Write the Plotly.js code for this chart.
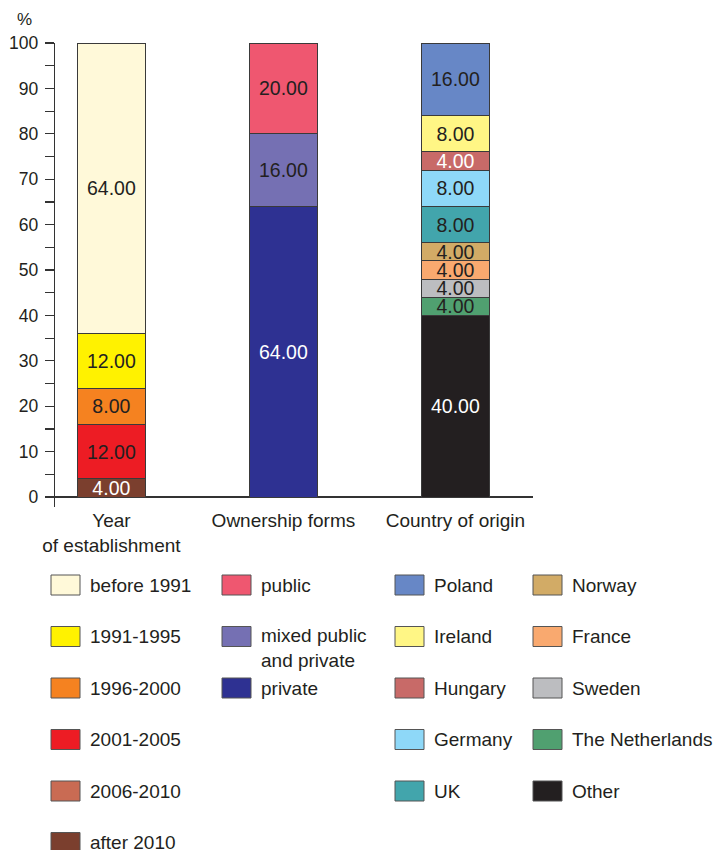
<!DOCTYPE html>
<html>
<head>
<meta charset="utf-8">
<script src="https://cdn.plot.ly/plotly-3.0.1.min.js"></script>
<style>html,body{margin:0;padding:0;background:#fff;}#chart{width:716px;height:850px;}</style>
</head>
<body>
<div id="chart"></div>
<script>
// ---- DATA (stack order bottom -> top) ----
const categories = ['Year<br>of establishment', 'Ownership forms', 'Country of origin'];

const yearNames  = ['after 2010', '2006-2010', '2001-2005', '1996-2000', '1991-1995', 'before 1991'];
const yearValues = [4, 0, 12, 8, 12, 64];

const ownNames  = ['private', 'mixed public<br>and private', 'public'];
const ownValues = [64, 16, 20];

const countryNames  = ['Other', 'The Netherlands', 'Sweden', 'France', 'Norway', 'UK', 'Germany', 'Hungary', 'Ireland', 'Poland'];
const countryValues = [40, 4, 4, 4, 4, 8, 8, 4, 8, 16];

const yTickVals = [0, 10, 20, 30, 40, 50, 60, 70, 80, 90, 100];

// ---- STYLE ----
const yearColors = ['#7b3f2e', '#c96b53', '#ed1c24', '#f58220', '#fff200', '#fff9d9'];
const yearText   = ['#ffffff', '#231f20', '#231f20', '#231f20', '#231f20', '#231f20'];
const ownColors  = ['#2e3192', '#7570b3', '#ef5770'];
const ownText    = ['#ffffff', '#231f20', '#231f20'];
const countryColors = ['#231f20', '#50a070', '#bcbdc0', '#f9a96f', '#d2ab66', '#42a5ac', '#8ed8f8', '#c86a68', '#fff685', '#6787c6'];
const countryText   = ['#ffffff', '#231f20', '#231f20', '#231f20', '#231f20', '#231f20', '#231f20', '#ffffff', '#231f20', '#231f20'];

const FONT = 'Liberation Sans, Arial, Helvetica, sans-serif';
const INK = '#231f20';

const traces = [];
function addGroup(cat, names, values, colors, textColors) {
  names.forEach((n, i) => {
    traces.push({
      type: 'bar',
      name: n,
      x: [cat],
      y: [values[i]],
      width: 0.4,
      text: [values[i] > 0 ? values[i].toFixed(2) : ''],
      textposition: 'inside',
      insidetextanchor: 'middle',
      constraintext: 'none',
      textfont: {family: FONT, size: 19.5, color: textColors[i]},
      marker: {color: colors[i], line: {color: '#3a3a3a', width: 1}},
      hoverinfo: 'skip',
      showlegend: false
    });
  });
}
addGroup(categories[0], yearNames, yearValues, yearColors, yearText);
addGroup(categories[1], ownNames, ownValues, ownColors, ownText);
addGroup(categories[2], countryNames, countryValues, countryColors, countryText);

// ---- plot-area geometry (pixels) ----
const L = 55, R = 533, T = 43, B = 507, W = 716, H = 850;
const px = x => (x - L) / (R - L);
const py = y => (B - y) / (B - T);

// ---- custom legend grid ----
const shapes = [];
const annotations = [];
const colLeft = [51, 222, 395, 533];
const rowCenter = [585, 636.5, 688, 739.5, 791, 842.5];
function legendColumn(col, names, colors) {
  names.forEach((n, r) => {
    const cy = rowCenter[r];
    shapes.push({
      type: 'rect', xref: 'paper', yref: 'paper',
      x0: px(colLeft[col]), x1: px(colLeft[col] + 29),
      y0: py(cy - 10), y1: py(cy + 10),
      fillcolor: colors[r], line: {color: '#555', width: 1}
    });
    const multi = n.indexOf('<br>') >= 0;
    annotations.push({
      xref: 'paper', yref: 'paper',
      x: px(colLeft[col] + 37), y: py(cy + (multi ? 11 : 0)),
      xanchor: 'left', yanchor: 'middle', align: 'left',
      text: n, showarrow: false,
      font: {family: FONT, size: 19, color: INK}
    });
  });
}
legendColumn(0, yearNames.slice().reverse(), yearColors.slice().reverse());
legendColumn(1, ownNames.slice().reverse(), ownColors.slice().reverse());
const cN = countryNames.slice().reverse(), cC = countryColors.slice().reverse();
legendColumn(2, cN.slice(0, 5), cC.slice(0, 5));
legendColumn(3, cN.slice(5), cC.slice(5));

annotations.push({
  xref: 'paper', yref: 'paper', x: px(24), y: py(19),
  xanchor: 'center', yanchor: 'middle', text: '%', showarrow: false,
  font: {family: FONT, size: 17, color: INK}
});

const layout = {
  width: W, height: H,
  margin: {l: L, r: W - R, t: T, b: H - B, pad: 0},
  paper_bgcolor: '#ffffff', plot_bgcolor: '#ffffff',
  barmode: 'stack',
  showlegend: false,
  font: {family: FONT, color: INK},
  xaxis: {
    type: 'category',
    range: [-0.328, 2.451],
    showline: false, showgrid: false, zeroline: false,
    ticks: '', ticklen: 0,
    tickfont: {family: FONT, size: 19, color: INK},
    fixedrange: true
  },
  yaxis: {
    range: [-2.2, 100],
    tickvals: yTickVals,
    ticktext: yTickVals.map(String),
    ticks: 'outside', ticklen: 9, tickwidth: 1.2, tickcolor: '#333',
    minor: {tickvals: [5, 15, 25, 35, 45, 55, 65, 75, 85, 95], ticks: 'outside', ticklen: 9, tickwidth: 1.2, tickcolor: '#333'},
    showline: true, linecolor: '#333', linewidth: 1.2,
    showgrid: false,
    zeroline: true, zerolinecolor: '#333', zerolinewidth: 1.2,
    tickfont: {family: FONT, size: 17.5, color: INK},
    ticklabelstandoff: 3,
    fixedrange: true
  },
  shapes: shapes,
  annotations: annotations
};

Plotly.newPlot('chart', traces, layout, {displayModeBar: false, staticPlot: true});
</script>
</body>
</html>
